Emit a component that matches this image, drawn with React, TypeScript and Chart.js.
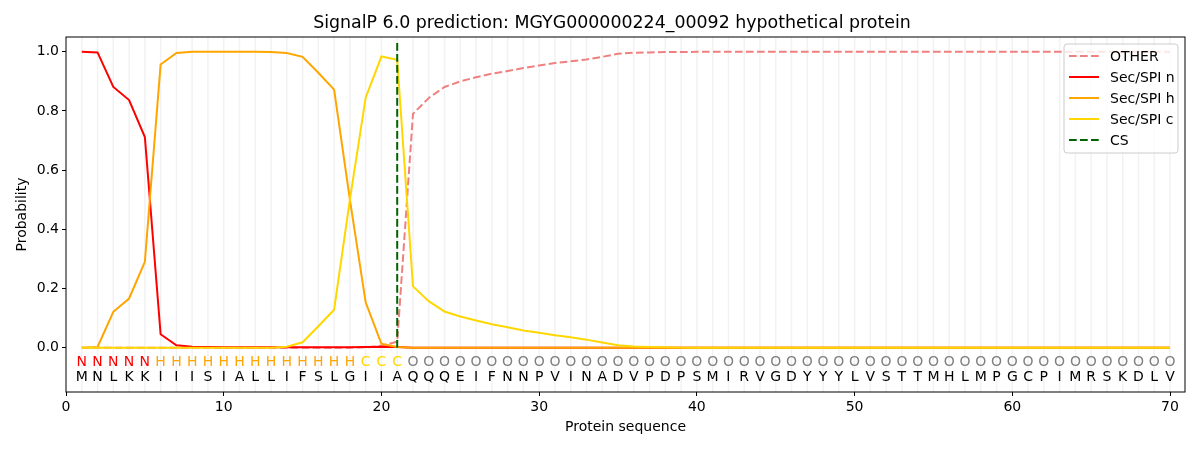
import { useEffect, useRef } from 'react';
import Chart from 'chart.js/auto';

const FONT = '"DejaVu Sans", Verdana, sans-serif';

const residues = [
  'M', 'N', 'L', 'K', 'K', 'I', 'I', 'I', 'S', 'I', 'A', 'L', 'L', 'I', 'F', 'S', 'L', 'G', 'I', 'I',
  'A', 'Q', 'Q', 'Q', 'E', 'I', 'F', 'N', 'N', 'P', 'V', 'I', 'N', 'A', 'D', 'V', 'P', 'D', 'P', 'S',
  'M', 'I', 'R', 'V', 'G', 'D', 'Y', 'Y', 'Y', 'L', 'V', 'S', 'T', 'T', 'M', 'H', 'L', 'M', 'P', 'G',
  'C', 'P', 'I', 'M', 'R', 'S', 'K', 'D', 'L', 'V',
];

const states = [
  'N', 'N', 'N', 'N', 'N', 'H', 'H', 'H', 'H', 'H', 'H', 'H', 'H', 'H', 'H', 'H', 'H', 'H', 'C', 'C',
  'C', 'O', 'O', 'O', 'O', 'O', 'O', 'O', 'O', 'O', 'O', 'O', 'O', 'O', 'O', 'O', 'O', 'O', 'O', 'O',
  'O', 'O', 'O', 'O', 'O', 'O', 'O', 'O', 'O', 'O', 'O', 'O', 'O', 'O', 'O', 'O', 'O', 'O', 'O', 'O',
  'O', 'O', 'O', 'O', 'O', 'O', 'O', 'O', 'O', 'O',
];

const otherProb = [
  0, 0, 0, 0, 0, 0, 0, 0, 0, 0, 0, 0, 0, 0, 0, 0, 0, 0, 0.001, 0.006,
  0.02, 0.79, 0.844, 0.881, 0.9, 0.914, 0.926, 0.935, 0.945, 0.954, 0.962, 0.968, 0.974, 0.983, 0.993, 0.997, 0.998, 0.999, 0.999, 1,
  1, 1, 1, 1, 1, 1, 1, 1, 1, 1, 1, 1, 1, 1, 1, 1, 1, 1, 1, 1,
  1, 1, 1, 1, 1, 1, 1, 1, 1, 1,
];

const secN = [
  1.0, 0.998, 0.881, 0.837, 0.712, 0.045, 0.008, 0.003, 0.002, 0.001, 0.001, 0.001, 0.001, 0.001, 0.001, 0.001, 0.001, 0.001, 0.002, 0.003,
  0.002, 0, 0, 0, 0, 0, 0, 0, 0, 0, 0, 0, 0, 0, 0, 0, 0, 0, 0, 0,
  0, 0, 0, 0, 0, 0, 0, 0, 0, 0, 0, 0, 0, 0, 0, 0, 0, 0, 0, 0,
  0, 0, 0, 0, 0, 0, 0, 0, 0, 0,
];

const secH = [
  0, 0.002, 0.121, 0.166, 0.29, 0.957, 0.996, 1.0, 1.0, 1.0, 1.0, 1.0, 0.999, 0.996, 0.983, 0.929, 0.872, 0.5, 0.153, 0.013,
  0.002, 0, 0, 0, 0, 0, 0, 0, 0, 0, 0, 0, 0, 0, 0, 0, 0, 0, 0, 0,
  0, 0, 0, 0, 0, 0, 0, 0, 0, 0, 0, 0, 0, 0, 0, 0, 0, 0, 0, 0,
  0, 0, 0, 0, 0, 0, 0, 0, 0, 0,
];

const secC = [
  0, 0, 0, 0, 0, 0, 0, 0, 0, 0, 0, 0, 0, 0.003, 0.018, 0.072, 0.128, 0.5, 0.845, 0.984,
  0.973, 0.207, 0.157, 0.122, 0.105, 0.092, 0.079, 0.069, 0.058, 0.05, 0.042, 0.035, 0.027, 0.017, 0.008, 0.004, 0.002, 0.001, 0, 0,
  0, 0, 0, 0, 0, 0, 0, 0, 0, 0, 0, 0, 0, 0, 0, 0, 0, 0, 0, 0,
  0, 0, 0, 0, 0, 0, 0, 0, 0, 0,
];

const cleavageSite = 21;
const csSpan = [0, 1.035];

const xTicks = [0, 10, 20, 30, 40, 50, 60, 70];
const yTicks = [0, 0.2, 0.4, 0.6, 0.8, 1.0];

const stateColors: Record<string, string> = {
  N: '#ff0000',
  H: '#ffa500',
  C: '#ffd700',
  O: '#808080',
};

const DASH = [7.7, 3.3];

const toPoints = (values: number[]) => values.map((y, i) => ({ x: i + 1, y }));

// draws title, axis labels, residue rows, frame and legend
const decorations = {
  id: 'decorations',
  beforeDatasetsDraw(chart: any) {
    const { ctx, chartArea, scales } = chart;
    ctx.save();
    ctx.strokeStyle = '#f2f2f2';
    ctx.lineWidth = 1.5;
    residues.forEach((_, i) => {
      const px = scales.x.getPixelForValue(i + 1);
      ctx.beginPath();
      ctx.moveTo(px, chartArea.top);
      ctx.lineTo(px, chartArea.bottom);
      ctx.stroke();
    });
    ctx.restore();
  },
  afterDatasetsDraw(chart: any) {
    const { ctx, chartArea, scales } = chart;
    ctx.save();

    // residue rows
    ctx.font = `14px ${FONT}`;
    ctx.textAlign = 'center';
    ctx.textBaseline = 'middle';
    const yState = scales.y.getPixelForValue(-0.05);
    const yRes = scales.y.getPixelForValue(-0.1);
    residues.forEach((r, i) => {
      const px = scales.x.getPixelForValue(i + 1);
      ctx.fillStyle = stateColors[states[i]];
      ctx.fillText(states[i], px, yState);
      ctx.fillStyle = '#000000';
      ctx.fillText(r, px, yRes);
    });

    // frame
    ctx.strokeStyle = '#000000';
    ctx.lineWidth = 1;
    ctx.strokeRect(chartArea.left, chartArea.top, chartArea.right - chartArea.left, chartArea.bottom - chartArea.top);

    // legend
    const lx = chartArea.right - 121;
    const ly = chartArea.top + 7;
    const lw = 114;
    const lh = 109;
    ctx.beginPath();
    ctx.roundRect(lx, ly, lw, lh, 3);
    ctx.fillStyle = 'rgba(255,255,255,0.8)';
    ctx.fill();
    ctx.strokeStyle = '#cccccc';
    ctx.stroke();
    ctx.font = `14px ${FONT}`;
    ctx.textAlign = 'left';
    chart.data.datasets.forEach((ds: any, i: number) => {
      const y = ly + 12 + i * 21;
      ctx.beginPath();
      ctx.setLineDash(ds.borderDash || []);
      ctx.strokeStyle = ds.borderColor;
      ctx.lineWidth = 2;
      ctx.moveTo(lx + 5, y);
      ctx.lineTo(lx + 35, y);
      ctx.stroke();
      ctx.setLineDash([]);
      ctx.fillStyle = '#000000';
      ctx.fillText(ds.label, lx + 46, y + 1);
    });

    // title and axis titles
    ctx.fillStyle = '#000000';
    ctx.textAlign = 'center';
    ctx.font = `17.4px ${FONT}`;
    ctx.fillText('SignalP 6.0 prediction: MGYG000000224_00092 hypothetical protein', 612, 23);
    ctx.font = `14px ${FONT}`;
    ctx.fillText('Protein sequence', (chartArea.left + chartArea.right) / 2, 427);
    ctx.translate(22, (chartArea.top + chartArea.bottom) / 2);
    ctx.rotate(-Math.PI / 2);
    ctx.fillText('Probability', 0, 0);
    ctx.restore();
  },
};

export default function App() {
  const canvasRef = useRef<HTMLCanvasElement>(null);

  useEffect(() => {
    document.body.style.margin = '0';
    if (!canvasRef.current) return;

    const line = (label: string, values: number[], color: string, order: number, dash?: number[]) => ({
      label,
      data: toPoints(values),
      borderColor: color,
      backgroundColor: color,
      borderWidth: 2,
      borderDash: dash,
      pointRadius: 0,
      tension: 0,
      order,
    });

    const chart = new Chart(canvasRef.current, {
      type: 'line',
      data: {
        datasets: [
          line('OTHER', otherProb, '#f08080', 5, DASH),
          line('Sec/SPI n', secN, '#ff0000', 4),
          line('Sec/SPI h', secH, '#ffa500', 3),
          line('Sec/SPI c', secC, '#ffd700', 2),
          {
            ...line('CS', [], '#006400', 1, DASH),
            data: csSpan.map((y) => ({ x: cleavageSite, y })),
          },
        ],
      },
      options: {
        animation: false,
        responsive: true,
        maintainAspectRatio: false,
        layout: { padding: { top: 37, right: 15, left: 0, bottom: 0 } },
        plugins: {
          legend: { display: false },
          title: { display: false },
          tooltip: { enabled: false },
        },
        scales: {
          x: {
            type: 'linear',
            min: 0,
            max: 70.95,
            afterBuildTicks: (scale: any) => {
              scale.ticks = xTicks.map((value) => ({ value }));
            },
            afterFit: (scale: any) => {
              scale.height = 58;
            },
            grid: {
              drawOnChartArea: false,
              drawTicks: true,
              tickLength: 4,
              tickColor: '#000000',
            },
            border: { display: false },
            ticks: {
              autoSkip: false,
              maxRotation: 0,
              padding: 3,
              color: '#000000',
              font: { family: FONT, size: 14 },
              callback: (v: any) => String(v),
            },
          },
          y: {
            min: -0.15,
            max: 1.05,
            afterBuildTicks: (scale: any) => {
              scale.ticks = yTicks.map((value) => ({ value }));
            },
            afterFit: (scale: any) => {
              scale.width = 66;
            },
            grid: {
              drawOnChartArea: false,
              drawTicks: true,
              tickLength: 4,
              tickColor: '#000000',
            },
            border: { display: false },
            ticks: {
              padding: 3,
              color: '#000000',
              font: { family: FONT, size: 14 },
              callback: (v: any) => Number(v).toFixed(1),
            },
          },
        },
      },
      plugins: [decorations],
    });

    return () => chart.destroy();
  }, []);

  return (
    <div style={{ width: 1200, height: 450, position: 'relative' }}>
      <canvas ref={canvasRef} />
    </div>
  );
}
